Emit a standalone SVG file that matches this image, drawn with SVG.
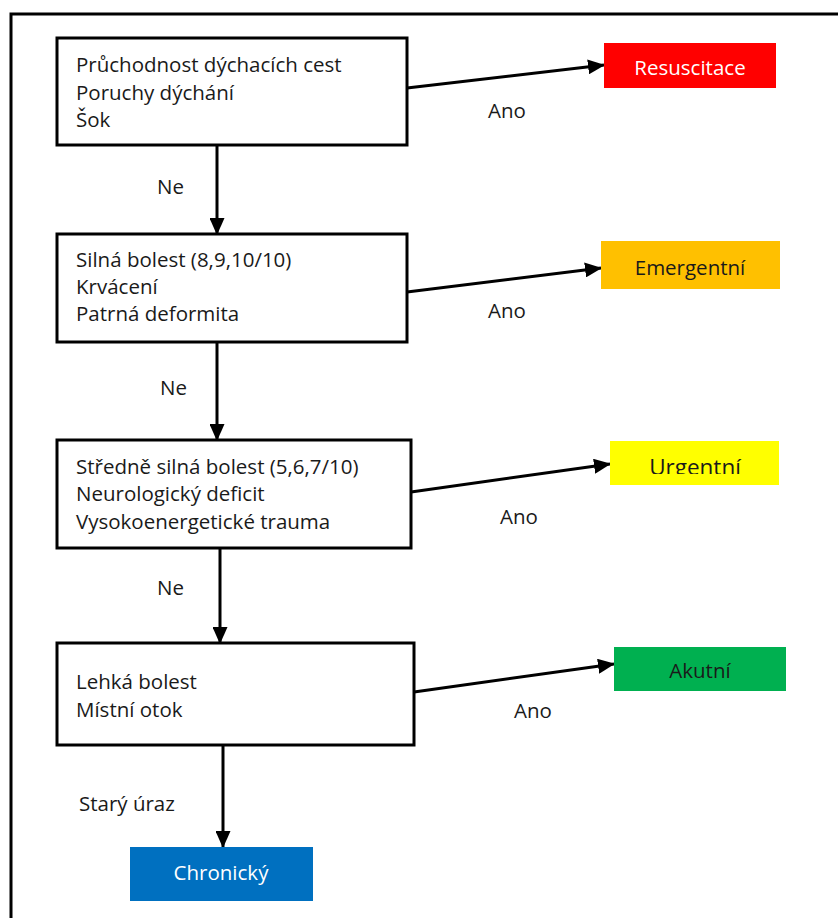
<svg xmlns="http://www.w3.org/2000/svg" width="838" height="918" viewBox="0 0 838 918">
<style>
.box{fill:#fff;stroke:#000;stroke-width:3}
.t{font-family:"Open Sans","DejaVu Sans",sans-serif;font-size:20.5px;fill:#1a1a1a}
.c{text-anchor:middle}
.w{fill:#fff}
.con{stroke:#000;stroke-width:3;fill:none;marker-end:url(#ah)}
</style>
<defs>
<marker id="ah" markerUnits="userSpaceOnUse" markerWidth="17" markerHeight="15" refX="16" refY="7.5" orient="auto">
<path d="M0,0 L17,7.5 L0,15 Z" fill="#000"/>
</marker>
<clipPath id="uclip"><rect x="610" y="441" width="170" height="33"/></clipPath>
</defs>
<rect x="11" y="14" width="840" height="920" fill="#fff" stroke="#000" stroke-width="3"/>
<g id="connectors">
<line class="con" x1="217" y1="145" x2="217" y2="234"/>
<line class="con" x1="217" y1="342" x2="217" y2="440"/>
<line class="con" x1="220" y1="548" x2="220" y2="643"/>
<line class="con" x1="223" y1="745" x2="223" y2="847"/>
<line class="con" x1="407" y1="88" x2="604" y2="65"/>
<line class="con" x1="407" y1="292" x2="601" y2="268"/>
<line class="con" x1="411" y1="492" x2="610" y2="464"/>
<line class="con" x1="414" y1="692" x2="614" y2="664"/>
<text class="t" x="157" y="194">Ne</text>
<text class="t" x="160" y="395">Ne</text>
<text class="t" x="157" y="595">Ne</text>
<text class="t" x="79" y="811">Starý úraz</text>
<text class="t" x="488" y="118">Ano</text>
<text class="t" x="488" y="318">Ano</text>
<text class="t" x="500" y="524">Ano</text>
<text class="t" x="514" y="718">Ano</text>
</g>
<g id="n1">
<rect class="box" x="57" y="38" width="350" height="107"/>
<text class="t" x="76" y="72">Průchodnost dýchacích cest</text>
<text class="t" x="76" y="100">Poruchy dýchání</text>
<text class="t" x="76" y="127">Šok</text>
</g>
<g id="n2">
<rect class="box" x="57" y="234" width="350" height="108"/>
<text class="t" x="76" y="267">Silná bolest (8,9,10/10)</text>
<text class="t" x="76" y="294">Krvácení</text>
<text class="t" x="76" y="321">Patrná deformita</text>
</g>
<g id="n3">
<rect class="box" x="57" y="440" width="354" height="108"/>
<text class="t" x="76" y="474">Středně silná bolest (5,6,7/10)</text>
<text class="t" x="76" y="501">Neurologický deficit</text>
<text class="t" x="76" y="529">Vysokoenergetické trauma</text>
</g>
<g id="n4">
<rect class="box" x="57" y="643" width="357" height="102"/>
<text class="t" x="76" y="689">Lehká bolest</text>
<text class="t" x="76" y="717">Místní otok</text>
</g>
<g id="resuscitace">
<rect x="604" y="43" width="172" height="45" fill="#FF0000"/>
<text class="t c w" x="690" y="75">Resuscitace</text>
</g>
<g id="emergentni">
<rect x="601" y="241" width="179" height="48" fill="#FFC000"/>
<text class="t c" x="690" y="275">Emergentní</text>
</g>
<g id="urgentni">
<rect x="610" y="441" width="169" height="44" fill="#FFFF00"/>
<text class="t c" x="695" y="475" style="font-size:22.5px" clip-path="url(#uclip)">Urgentní</text>
</g>
<g id="akutni">
<rect x="614" y="647" width="172" height="44" fill="#00B050"/>
<text class="t c" x="700" y="678">Akutní</text>
</g>
<g id="chronicky">
<rect x="130" y="847" width="183" height="54" fill="#0070C0"/>
<text class="t c w" x="221" y="880">Chronický</text>
</g>
</svg>
